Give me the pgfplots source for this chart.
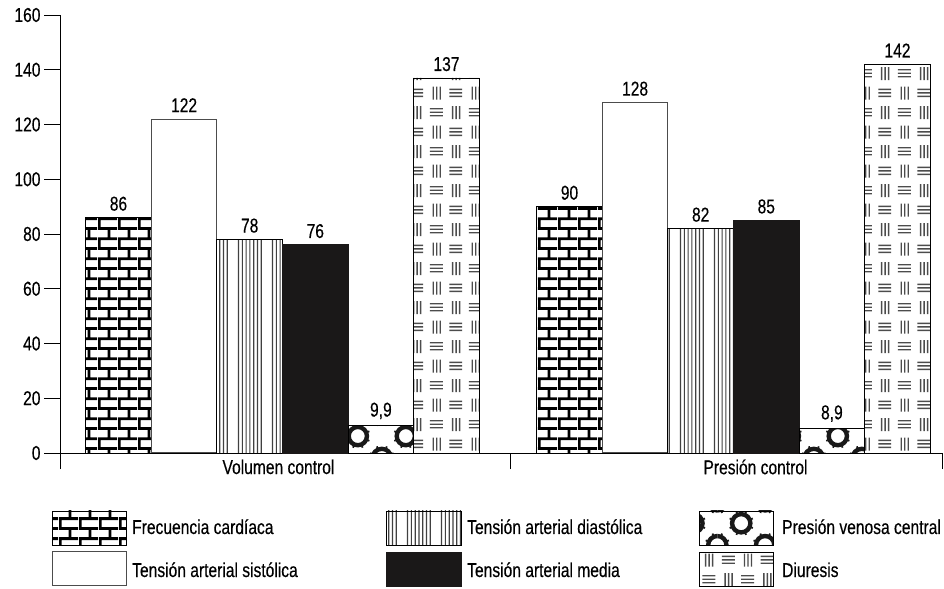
\documentclass[border=0pt]{standalone}
\usepackage{fontspec}
\setmainfont{Liberation Sans}[FakeStretch=0.78, FakeBold=0.3]
\usepackage{pgfplots}
\pgfplotsset{compat=1.18}
\usetikzlibrary{patterns}

\newcommand\chartfont{\fontsize{20bp}{23bp}\selectfont}

% brick wall
\pgfdeclarepatternformonly{ptbrick}{\pgfqpoint{0pt}{0pt}}{\pgfqpoint{19.6pt}{20pt}}{\pgfqpoint{19.6pt}{20pt}}{%
  \pgfpathrectangle{\pgfqpoint{0pt}{0pt}}{\pgfqpoint{19.6pt}{2.8pt}}%
  \pgfpathrectangle{\pgfqpoint{0pt}{10pt}}{\pgfqpoint{19.6pt}{2.8pt}}%
  \pgfpathrectangle{\pgfqpoint{0pt}{2.8pt}}{\pgfqpoint{2.8pt}{7.2pt}}%
  \pgfpathrectangle{\pgfqpoint{9.8pt}{12.8pt}}{\pgfqpoint{2.8pt}{7.2pt}}%
  \pgfusepath{fill}}

% groups of thin vertical lines
\pgfdeclarepatternformonly{ptvlines}{\pgfqpoint{0pt}{0pt}}{\pgfqpoint{34pt}{4pt}}{\pgfqpoint{34pt}{4pt}}{%
  \pgfpathrectangle{\pgfqpoint{1.0pt}{0pt}}{\pgfqpoint{1.2pt}{4pt}}%
  \pgfpathrectangle{\pgfqpoint{4.8pt}{0pt}}{\pgfqpoint{1.2pt}{4pt}}%
  \pgfpathrectangle{\pgfqpoint{8.6pt}{0pt}}{\pgfqpoint{1.2pt}{4pt}}%
  \pgfpathrectangle{\pgfqpoint{12.4pt}{0pt}}{\pgfqpoint{1.2pt}{4pt}}%
  \pgfpathrectangle{\pgfqpoint{16.2pt}{0pt}}{\pgfqpoint{1.2pt}{4pt}}%
  \pgfpathrectangle{\pgfqpoint{20.0pt}{0pt}}{\pgfqpoint{1.2pt}{4pt}}%
  \pgfpathrectangle{\pgfqpoint{23.8pt}{0pt}}{\pgfqpoint{1.2pt}{4pt}}%
  \pgfusepath{fill}}

% staggered rings with small teeth; corner rings wrap across tiles
\pgfdeclarepatternformonly{ptrings}{\pgfqpoint{0pt}{0pt}}{\pgfqpoint{48pt}{44pt}}{\pgfqpoint{48pt}{44pt}}{%
  \pgfsetlinewidth{4.4pt}%
  \foreach \cx/\cy in {0/0,48/0,0/44,48/44,24/22}{%
    \pgfpathcircle{\pgfqpoint{\cx pt}{\cy pt}}{9.2pt}%
  }%
  \pgfusepath{stroke}%
  \pgfsetlinewidth{1.8pt}%
  \foreach \cx/\cy in {0/0,48/0,0/44,48/44,24/22}{%
    \foreach \a in {22.5,67.5,...,337.5}{%
      \pgfpathmoveto{\pgfpointadd{\pgfqpoint{\cx pt}{\cy pt}}{\pgfpointpolar{\a}{11pt}}}%
      \pgfpathlineto{\pgfpointadd{\pgfqpoint{\cx pt}{\cy pt}}{\pgfpointpolar{\a}{12.6pt}}}%
    }%
  }%
  \pgfusepath{stroke}}

% checkerboard of horizontal and vertical line triplets
\pgfdeclarepatternformonly{ptweave}{\pgfqpoint{0pt}{0pt}}{\pgfqpoint{39pt}{39pt}}{\pgfqpoint{39pt}{39pt}}{%
  % horizontal triplets
  \pgfpathrectangle{\pgfqpoint{3pt}{5.6pt}}{\pgfqpoint{13pt}{1.4pt}}%
  \pgfpathrectangle{\pgfqpoint{3pt}{9.1pt}}{\pgfqpoint{13pt}{1.4pt}}%
  \pgfpathrectangle{\pgfqpoint{3pt}{12.6pt}}{\pgfqpoint{13pt}{1.4pt}}%
  \pgfpathrectangle{\pgfqpoint{22.5pt}{25.1pt}}{\pgfqpoint{13pt}{1.4pt}}%
  \pgfpathrectangle{\pgfqpoint{22.5pt}{28.6pt}}{\pgfqpoint{13pt}{1.4pt}}%
  \pgfpathrectangle{\pgfqpoint{22.5pt}{32.1pt}}{\pgfqpoint{13pt}{1.4pt}}%
  % vertical triplets
  \pgfpathrectangle{\pgfqpoint{25.1pt}{3pt}}{\pgfqpoint{1.4pt}{13pt}}%
  \pgfpathrectangle{\pgfqpoint{28.6pt}{3pt}}{\pgfqpoint{1.4pt}{13pt}}%
  \pgfpathrectangle{\pgfqpoint{32.1pt}{3pt}}{\pgfqpoint{1.4pt}{13pt}}%
  \pgfpathrectangle{\pgfqpoint{5.6pt}{22.5pt}}{\pgfqpoint{1.4pt}{13pt}}%
  \pgfpathrectangle{\pgfqpoint{9.1pt}{22.5pt}}{\pgfqpoint{1.4pt}{13pt}}%
  \pgfpathrectangle{\pgfqpoint{12.6pt}{22.5pt}}{\pgfqpoint{1.4pt}{13pt}}%
  \pgfusepath{fill}}

\definecolor{barblack}{HTML}{1A1818}

\tikzset{
  sw fc/.style={draw=black, line width=0.9bp, pattern=ptbrick, pattern color=black},
  sw tas/.style={draw=black!70, line width=1bp, fill=white},
  sw tad/.style={draw=black, line width=0.9bp, pattern=ptvlines, pattern color=black!75},
  sw tam/.style={draw=barblack, line width=0.9bp, fill=barblack},
  sw pvc/.style={draw=black, line width=0.9bp, pattern=ptrings, pattern color=black!90},
  sw diu/.style={draw=black, line width=0.9bp, pattern=ptweave, pattern color=black!70},
}

\begin{document}
\begin{tikzpicture}
\path[use as bounding box] (0bp,0bp) rectangle (944bp,589bp);
\begin{axis}[
  at={(60bp,136bp)}, anchor=south west,
  scale only axis, width=882bp, height=438bp,
  xmin=-0.4933, xmax=1.4623, ymin=0, ymax=160,
  axis x line=bottom, axis y line=left,
  axis line style={-, black, line width=0.9bp},
  ytick={0,20,...,160},
  xtick={-0.4933,0.5044,1.4623}, xticklabels={},
  extra x ticks={-0.0089,1.0488},
  extra x tick labels={Volumen control,Presión control},
  extra x tick style={major tick length=0pt, xticklabel style={yshift=-3bp}},
  tick align=outside, major tick length=16bp,
  tick style={black, line width=0.9bp},
  ticklabel style={font=\chartfont, black},
  /pgf/number format/use comma,
  /pgf/number format/assume math mode=true,
  ybar=0pt, bar width=0.14545,
  nodes near coords,
  every node near coord/.append style={font=\chartfont, black, yshift=3bp},
  clip=false,
]
% Frecuencia cardíaca
\addplot[sw fc] coordinates {(0,86) (1,90)};
% Tensión arterial sistólica
\addplot[sw tas] coordinates {(0,122) (1,128)};
% Tensión arterial diastólica
\addplot[sw tad] coordinates {(0,78) (1,82)};
% Tensión arterial media
\addplot[sw tam] coordinates {(0,76) (1,85)};
% Presión venosa central
\addplot[sw pvc] coordinates {(0,9.9) (1,8.9)};
% Diuresis
\addplot[sw diu] coordinates {(0,137) (1,142)};
\end{axis}

% legend
\begin{scope}[every node/.style={font=\chartfont, anchor=base west, inner sep=0pt}]
  \draw[sw fc]  (52bp,44bp) rectangle (126bp,78bp);
  \node at (132bp,55bp) {Frecuencia cardíaca};
  \draw[sw tas] (52bp,3bp) rectangle (126bp,37bp);
  \node at (132bp,12bp) {Tensión arterial sistólica};
  \draw[sw tad] (386bp,44bp) rectangle (461bp,78bp);
  \node at (467bp,55bp) {Tensión arterial diastólica};
  \draw[sw tam] (386bp,3bp) rectangle (461bp,37bp);
  \node at (467bp,12bp) {Tensión arterial media};
  \draw[sw pvc] (699bp,44bp) rectangle (773bp,78bp);
  \node at (782bp,55bp) {Presión venosa central};
  \draw[sw diu] (699bp,3bp) rectangle (773bp,37bp);
  \node at (782bp,12bp) {Diuresis};
\end{scope}
\end{tikzpicture}
\end{document}
